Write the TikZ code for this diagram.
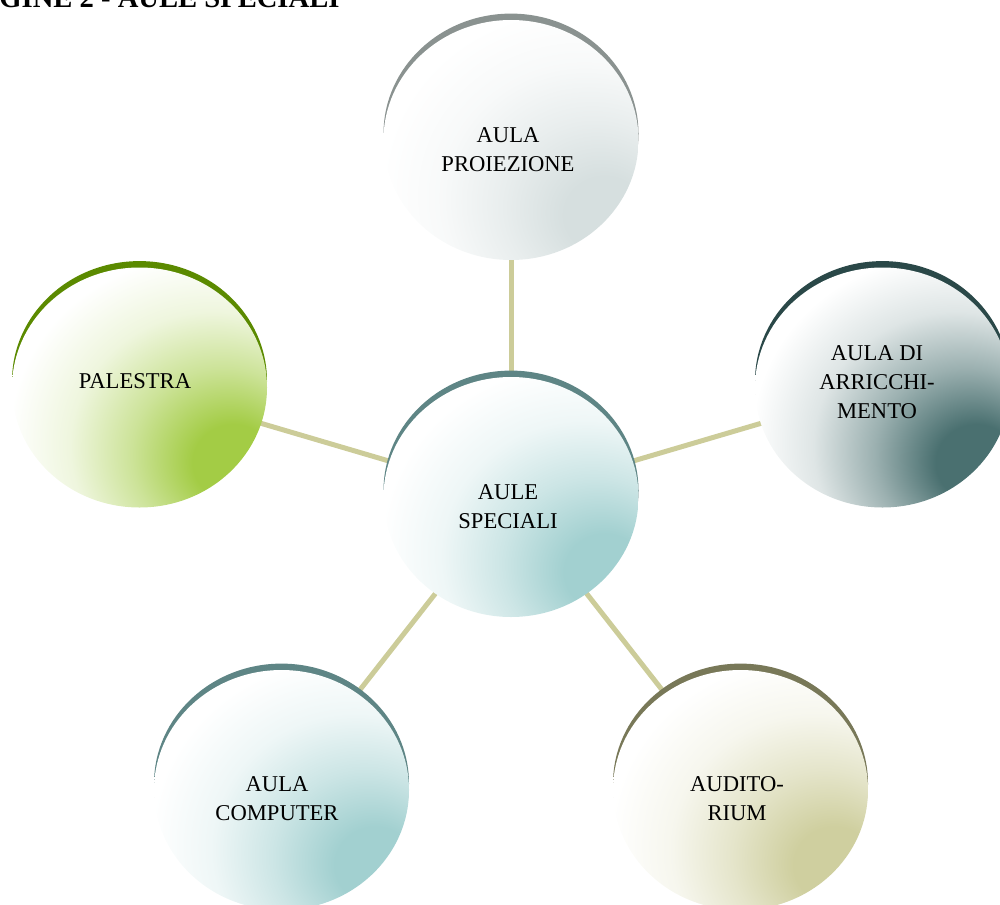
\documentclass[tikz,border=0pt]{standalone}
\usepackage{fontspec}
\setmainfont{Liberation Serif}
\usetikzlibrary{shapes.geometric}
\usetikzlibrary{backgrounds}
\definecolor{linkc}{HTML}{CCCC99}
\definecolor{projc}{HTML}{D6DFDF}
\definecolor{projrim}{HTML}{8A9290}
\definecolor{ctrc}{HTML}{A2D0D0}
\definecolor{ctrrim}{HTML}{5E8585}
\definecolor{arrc}{HTML}{4A7070}
\definecolor{arrrim}{HTML}{2A4848}
\definecolor{palc}{HTML}{A3CC45}
\definecolor{palrim}{HTML}{5B8A00}
\definecolor{compc}{HTML}{A2D0D0}
\definecolor{comprim}{HTML}{5E8585}
\definecolor{audc}{HTML}{CFCF9F}
\definecolor{audrim}{HTML}{787858}
\colorlet{bubc}{white}
\pgfdeclareradialshading[bubc]{bubshade}{\pgfpoint{20bp}{-17bp}}{color(0bp)=(bubc); color(8bp)=(bubc); color(18bp)=(bubc!55!white); color(28bp)=(bubc!18!white); color(38bp)=(white); color(100bp)=(white)}
\tikzset{bubble/.style={ellipse, minimum width=127.5pt, minimum height=120pt, inner sep=0pt,
    /utils/exec={\colorlet{bubc}{#1}}, shading=bubshade},
  rim/.style={fill=#1},
  link/.style={draw=linkc, line width=2.5pt},
  lbl/.style={align=center, inner sep=0pt, font=\fontsize{11.3}{14.5}\selectfont}
}

\begin{document}
\begin{tikzpicture}[x=0.5pt,y=-0.5pt]
                \useasboundingbox (0,0) rectangle (1000,904);
                \clip (0,0) rectangle (1000,904);
                
                \node[anchor=base west, inner sep=0pt, font=\bfseries\fontsize{14.3}{17}\selectfont] (title) at (-1,7.5) {GINE 2 - AULE SPECIALI};
                
                % Circles
                \node[bubble=ctrc] (ctr) at (511,497) {};
                \node[bubble=projc] (proj) at (511,140) {};
                \node[bubble=palc] (pal) at (139.5,387.5) {};
                \node[bubble=arrc] (arr) at (882.5,387.5) {};
                \node[bubble=compc] (comp) at (281.5,790) {};
                \node[bubble=audc] (aud) at (740.5,790) {};
                
                % Links and rims
                \begin{scope}[on background layer]
                \draw[link] (ctr.center) -- (proj.center);
                \draw[link] (ctr.center) -- (pal.center);
                \draw[link] (ctr.center) -- (arr.center);
                \draw[link] (ctr.center) -- (comp.center);
                \draw[link] (ctr.center) -- (aud.center);
                
                \fill[rim=ctrrim] ([yshift=3.2pt]ctr.center) ellipse [x radius=63.75pt, y radius=60pt];
                \fill[rim=projrim] ([yshift=3.2pt]proj.center) ellipse [x radius=63.75pt, y radius=60pt];
                \fill[rim=palrim] ([yshift=3.2pt]pal.center) ellipse [x radius=63.75pt, y radius=60pt];
                \fill[rim=arrrim] ([yshift=3.2pt]arr.center) ellipse [x radius=63.75pt, y radius=60pt];
                \fill[rim=comprim] ([yshift=3.2pt]comp.center) ellipse [x radius=63.75pt, y radius=60pt];
                \fill[rim=audrim] ([yshift=3.2pt]aud.center) ellipse [x radius=63.75pt, y radius=60pt];
                \end{scope}
                
                % Labels
                \node[lbl] (ctrt) at ([shift={(-3,10)}]ctr) {AULE\\SPECIALI};
                \node[lbl] (projt) at ([shift={(-3,10)}]proj) {AULA\\PROIEZIONE};
                \node[lbl] (palt) at ([shift={(-4.5,-6)}]pal) {PALESTRA};
                \node[lbl] (arrt) at ([shift={(-5.5,-5.5)}]arr) {AULA DI\\ARRICCHI-\\MENTO};
                \node[lbl] (compt) at ([shift={(-4.5,8.5)}]comp) {AULA\\COMPUTER};
                \node[lbl] (audt) at ([shift={(-3.5,8.5)}]aud) {AUDITO-\\RIUM};
            \end{tikzpicture}
\end{document}
